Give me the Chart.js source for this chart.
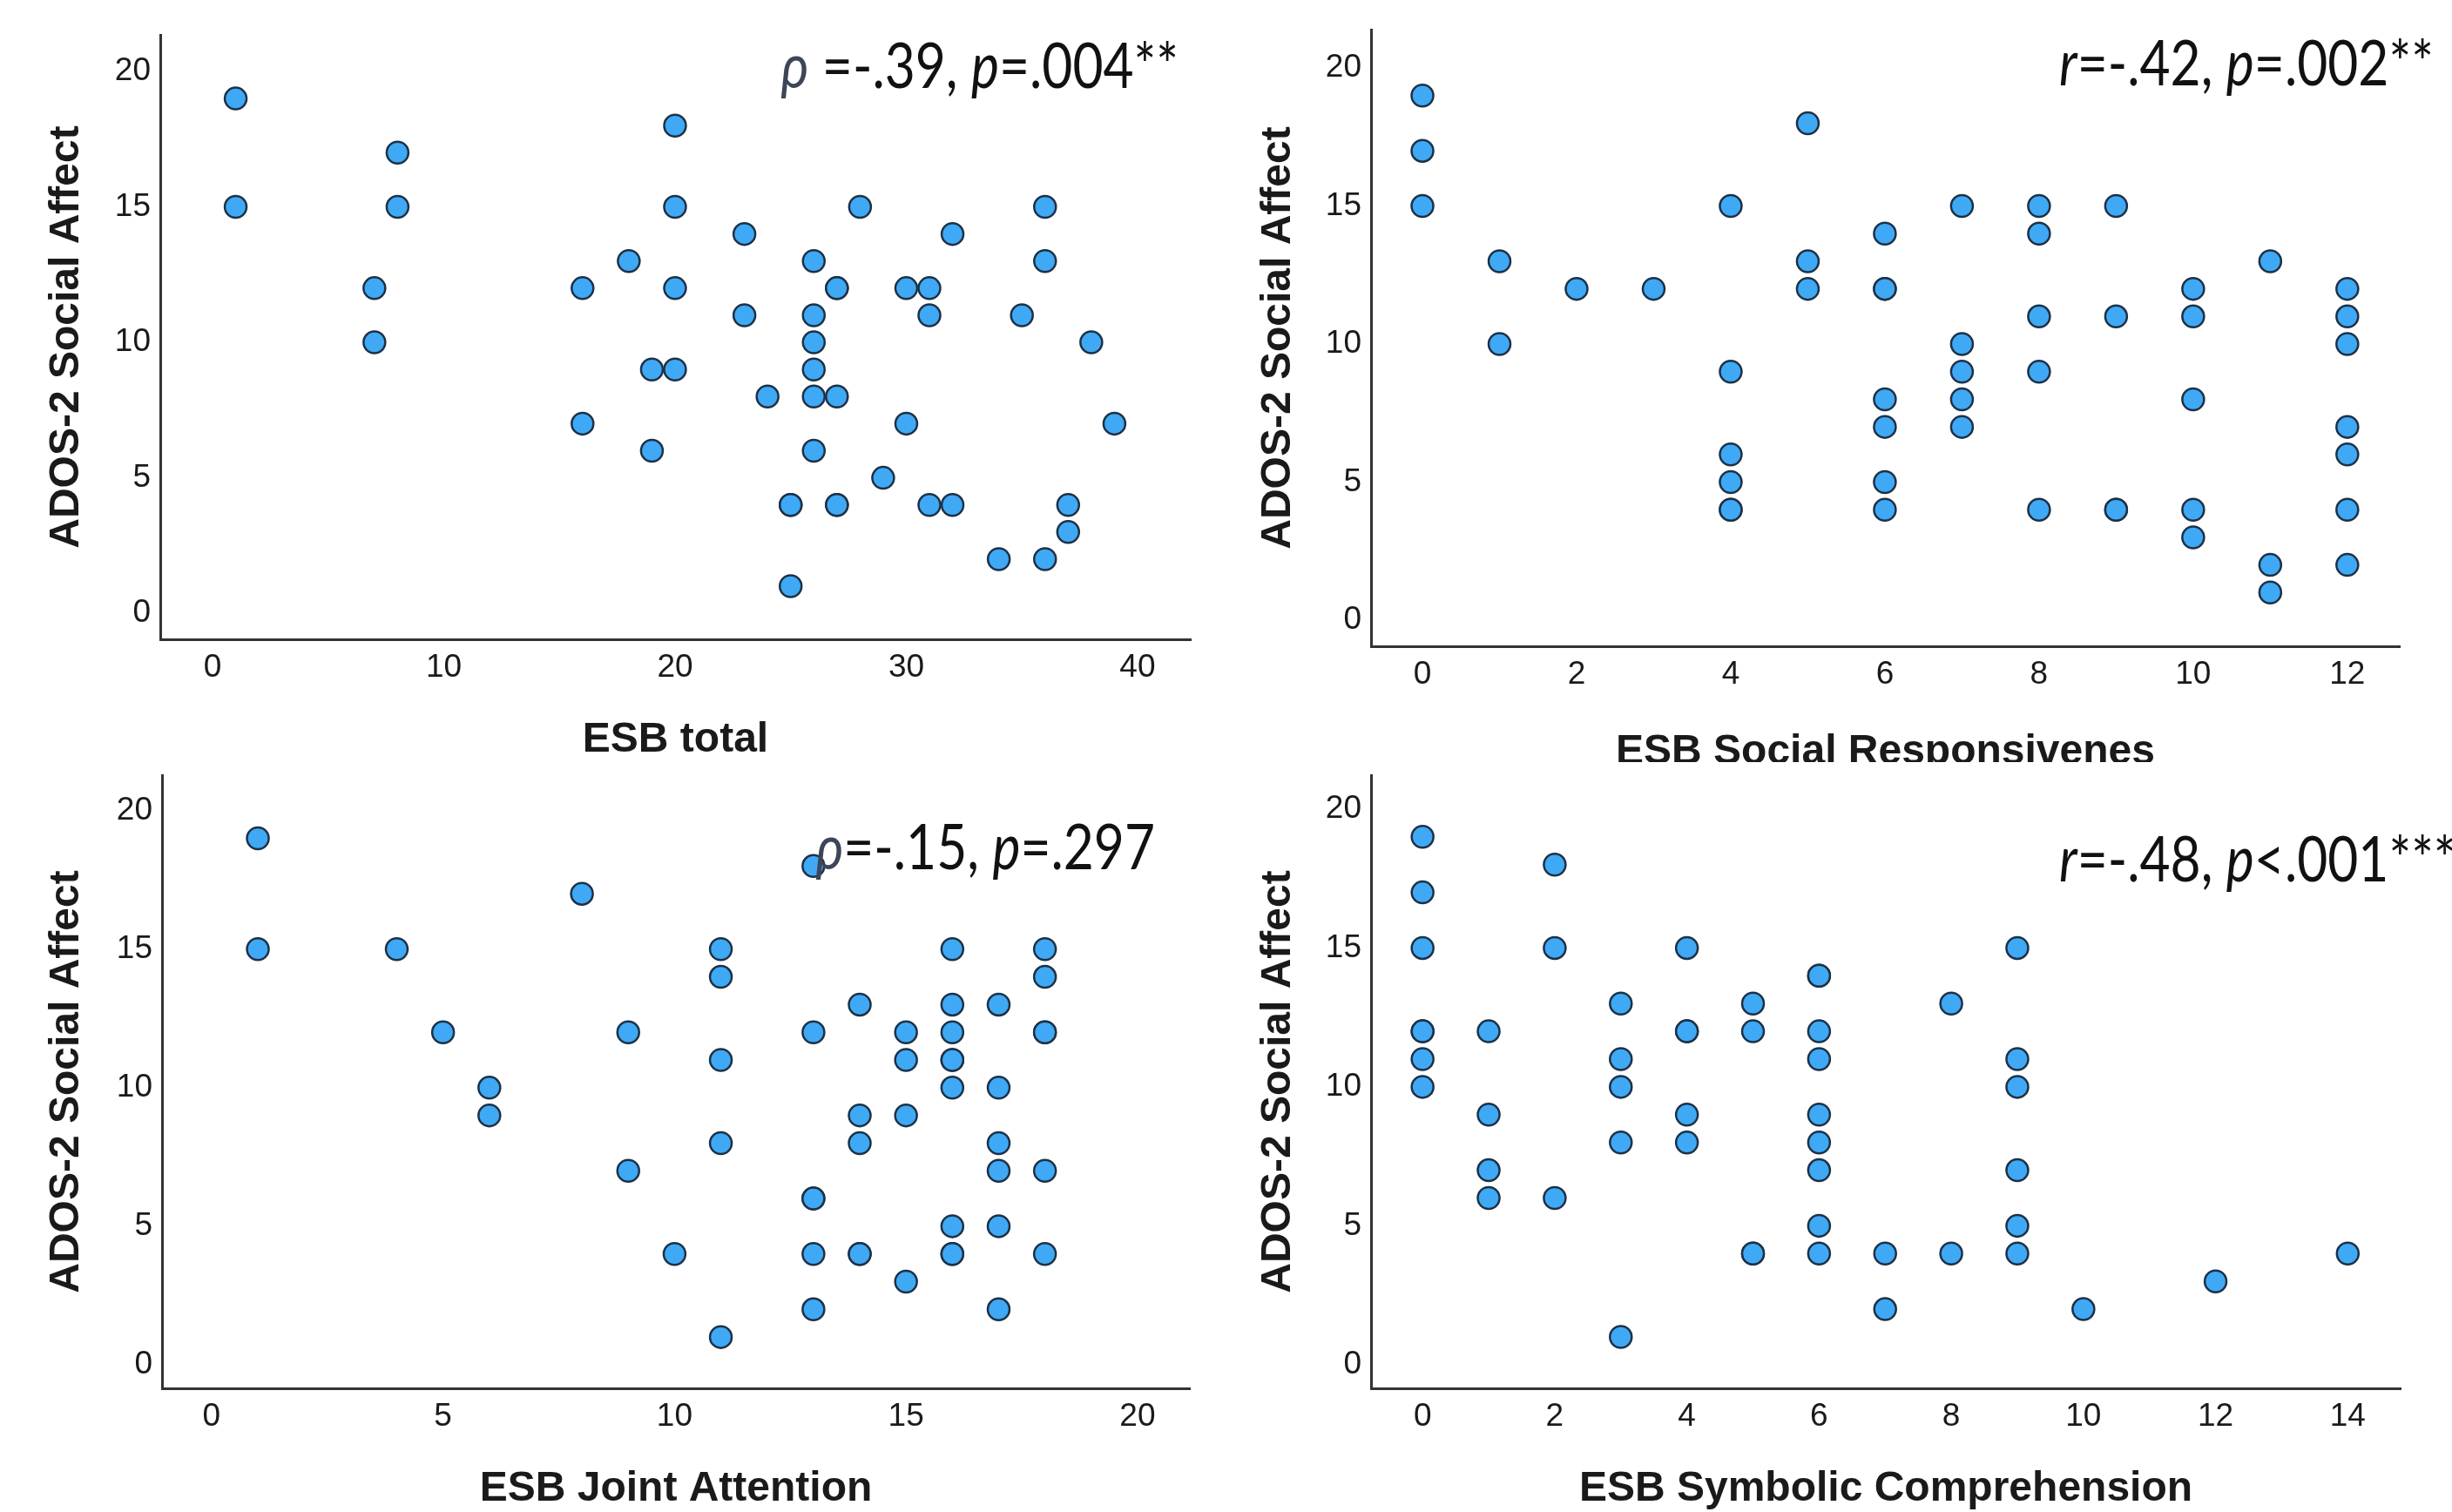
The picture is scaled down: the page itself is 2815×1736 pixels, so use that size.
<!DOCTYPE html>
<html>
<head>
<meta charset="utf-8">
<script src="https://cdn.jsdelivr.net/npm/chart.js@4.4.1/dist/chart.umd.min.js"></script>
<style>
  html, body { margin: 0; padding: 0; background: #fff; }
  body { width: 2815px; height: 1736px; position: relative; overflow: hidden; }
  canvas { position: absolute; }
</style>
</head>
<body>
<canvas id="c1" width="1400" height="875" style="left:0;top:0"></canvas>
<canvas id="c2" width="1415" height="875" style="left:1400px;top:0"></canvas>
<canvas id="c3" width="1400" height="861" style="left:0;top:875px"></canvas>
<canvas id="c4" width="1415" height="861" style="left:1400px;top:875px"></canvas>
<script>
// ESB total vs ADOS-2 SA
const esbTotal = [1,1,7,7,8,8,16,16,18,19,19,20,20,20,20,23,23,24,25,25,25,26,26,26,26,26,26,27,27,27,27,27,28,29,30,30,31,31,31,32,32,34,35,36,36,36,37,37,38,39];
const adosTotal = [19,15,12,10,17,15,12,7,13,9,6,18,15,12,9,14,11,8,4,4,1,13,11,10,9,8,6,12,12,8,4,4,15,5,12,7,12,11,4,14,4,2,11,15,13,2,4,3,10,7];

// ESB social responsiveness
const esbResp = [0,0,0,1,1,2,3,4,4,4,4,4,4,5,5,5,6,6,6,6,6,6,6,7,7,7,7,7,8,8,8,8,8,9,9,9,9,10,10,10,10,10,11,11,11,12,12,12,12,12,12,12];
const adosResp = [19,17,15,13,10,12,12,15,9,6,5,4,4,18,13,12,14,12,12,8,7,5,4,15,10,9,8,7,15,14,11,9,4,15,11,4,4,12,11,8,4,3,13,2,1,12,11,10,7,6,4,2];

// ESB joint attention
const esbJoint = [1,1,4,5,6,6,8,9,9,10,11,11,11,11,11,13,13,13,13,13,13,14,14,14,14,14,15,15,15,15,16,16,16,16,16,16,16,16,16,17,17,17,17,17,17,18,18,18,18,18,18];
const adosJoint = [19,15,15,12,10,9,17,12,7,4,15,14,11,8,1,18,12,6,6,4,2,13,9,8,4,4,12,11,9,3,15,13,12,11,11,10,5,4,4,13,10,8,7,5,2,15,14,12,12,7,4];

// ESB symbolic comprehension
const esbSymb = [0,0,0,0,0,0,0,1,1,1,1,2,2,2,3,3,3,3,3,4,4,4,4,4,5,5,5,5,6,6,6,6,6,6,6,6,6,7,7,8,8,9,9,9,9,9,9,10,12,14];
const adosSymb = [19,17,15,12,12,11,10,12,9,7,6,18,15,6,13,11,10,8,1,15,12,12,9,8,13,12,4,4,14,14,12,11,9,8,7,5,4,4,2,13,4,15,11,10,7,5,4,2,3,4];

const adosTicks = [0, 5, 10, 15, 20];
const totalTicks = [0, 10, 20, 30, 40];
const respTicks = [0, 2, 4, 6, 8, 10, 12];
const jointTicks = [0, 5, 10, 15, 20];
const symbTicks = [0, 2, 4, 6, 8, 10, 12, 14];

const yTitle = 'ADOS-2 Social Affect';

const SX = 0.84;
const annotPlugin = {
  id: 'annot',
  afterDraw(chart, args, opts) {
    if (!opts.parts) return;
    const ctx = chart.ctx;
    const fontOf = p => (p.italic ? 'italic ' : '') + '400 72px Lato';
    ctx.save();
    ctx.textBaseline = 'alphabetic';
    ctx.textAlign = 'left';
    let w = 0;
    opts.parts.forEach(p => { ctx.font = fontOf(p); w += ctx.measureText(p.text).width; });
    const x0 = opts.align === 'right' ? opts.x - w * SX : opts.x;
    ctx.translate(x0, opts.y);
    ctx.scale(SX, 1);
    let cx = 0;
    opts.parts.forEach(p => {
      ctx.font = fontOf(p);
      ctx.fillStyle = p.color || '#111';
      ctx.fillText(p.text, cx, 0);
      cx += ctx.measureText(p.text).width;
    });
    ctx.restore();
  }
};

function makePanel(id, p) {
  const pts = p.xs.map((x, i) => ({ x: x, y: p.ys[i] }));
  return new Chart(document.getElementById(id).getContext('2d'), {
    type: 'scatter',
    data: {
      datasets: [{
        data: pts,
        pointRadius: 12.5,
        pointBorderWidth: 2.5,
        pointBackgroundColor: '#3FA9F5',
        pointBorderColor: '#1D3146'
      }]
    },
    options: {
      responsive: false,
      animation: false,
      devicePixelRatio: 1,
      events: [],
      layout: { padding: { top: p.padTop, right: p.padRight, bottom: 0, left: 0 } },
      plugins: {
        legend: { display: false },
        tooltip: { enabled: false },
        annot: p.annot
      },
      scales: {
        x: {
          type: 'linear',
          min: p.xMin, max: p.xMax,
          grid: { display: false, drawTicks: false },
          border: { display: true, color: '#333', width: 3 },
          afterBuildTicks: axis => { axis.ticks = p.xTicks.map(v => ({ value: v })); },
          afterFit: axis => {
            axis.height = p.xHeight;
            axis.paddingLeft = 0; axis.paddingRight = 0;
          },
          ticks: { padding: 11, color: '#1a1a1a', font: { family: 'Liberation Sans', size: 37 } },
          title: {
            display: true, text: p.xTitle, color: '#1a1a1a',
            padding: { top: 0, bottom: p.xTitlePad },
            font: { family: 'Liberation Sans', size: 48, weight: 'bold', lineHeight: 1.2 }
          }
        },
        y: {
          type: 'linear',
          min: p.yMin, max: p.yMax,
          grid: { display: false, drawTicks: false },
          border: { display: true, color: '#333', width: 3 },
          afterBuildTicks: axis => { axis.ticks = adosTicks.map(v => ({ value: v })); },
          afterFit: axis => {
            axis.width = p.yWidth;
            axis.paddingTop = 0; axis.paddingBottom = 0;
          },
          ticks: { padding: 11, color: '#1a1a1a', font: { family: 'Liberation Sans', size: 37 } },
          title: {
            display: true, text: yTitle, color: '#1a1a1a',
            padding: { top: p.yTitlePad, bottom: 0 },
            font: { family: 'Liberation Sans', size: 48, weight: 'bold', lineHeight: 1.2 }
          }
        }
      }
    },
    plugins: [annotPlugin]
  });
}

const rhoColor = '#3D4658';

makePanel('c1', {
  xs: esbTotal, ys: adosTotal, xTicks: totalTicks, xTitle: 'ESB total',
  xMin: -2.26, xMax: 42.3, yMin: -0.96, yMax: 21.35,
  padTop: 40, padRight: 33, yWidth: 184, xHeight: 141, xTitlePad: -4, yTitlePad: 48,
  annot: { align: 'right', x: 1353, y: 101, parts: [
    { text: 'ρ', italic: true, color: rhoColor }, { text: ' =-.39, ' },
    { text: 'p', italic: true }, { text: '=.004**' }] }
});

makePanel('c2', {
  xs: esbResp, ys: adosResp, xTicks: respTicks, xTitle: 'ESB Social Responsivenes',
  xMin: -0.667, xMax: 12.68, yMin: -0.946, yMax: 21.39,
  padTop: 34, padRight: 60, yWidth: 174, xHeight: 133, xTitlePad: -18, yTitlePad: 39,
  annot: { align: 'left', x: 964, y: 98, parts: [
    { text: 'r', italic: true }, { text: '=-.42, ' },
    { text: 'p', italic: true }, { text: '=.002**' }] }
});

makePanel('c3', {
  xs: esbJoint, ys: adosJoint, xTicks: jointTicks, xTitle: 'ESB Joint Attention',
  xMin: -1.07, xMax: 21.13, yMin: -0.85, yMax: 21.28,
  padTop: 12, padRight: 34, yWidth: 186, xHeight: 142, xTitlePad: -3, yTitlePad: 48,
  annot: { align: 'right', x: 1326, y: 123, parts: [
    { text: 'ρ', italic: true, color: rhoColor }, { text: '=-.15, ' },
    { text: 'p', italic: true }, { text: '=.297' }] }
});

makePanel('c4', {
  xs: esbSymb, ys: adosSymb, xTicks: symbTicks, xTitle: 'ESB Symbolic Comprehension',
  xMin: -0.78, xMax: 14.8, yMin: -0.85, yMax: 21.22,
  padTop: 14, padRight: 59, yWidth: 174, xHeight: 142, xTitlePad: -3, yTitlePad: 39,
  annot: { align: 'left', x: 964, y: 137, parts: [
    { text: 'r', italic: true }, { text: '=-.48, ' },
    { text: 'p', italic: true }, { text: '<.001***' }] }
});
</script>
</body>
</html>
